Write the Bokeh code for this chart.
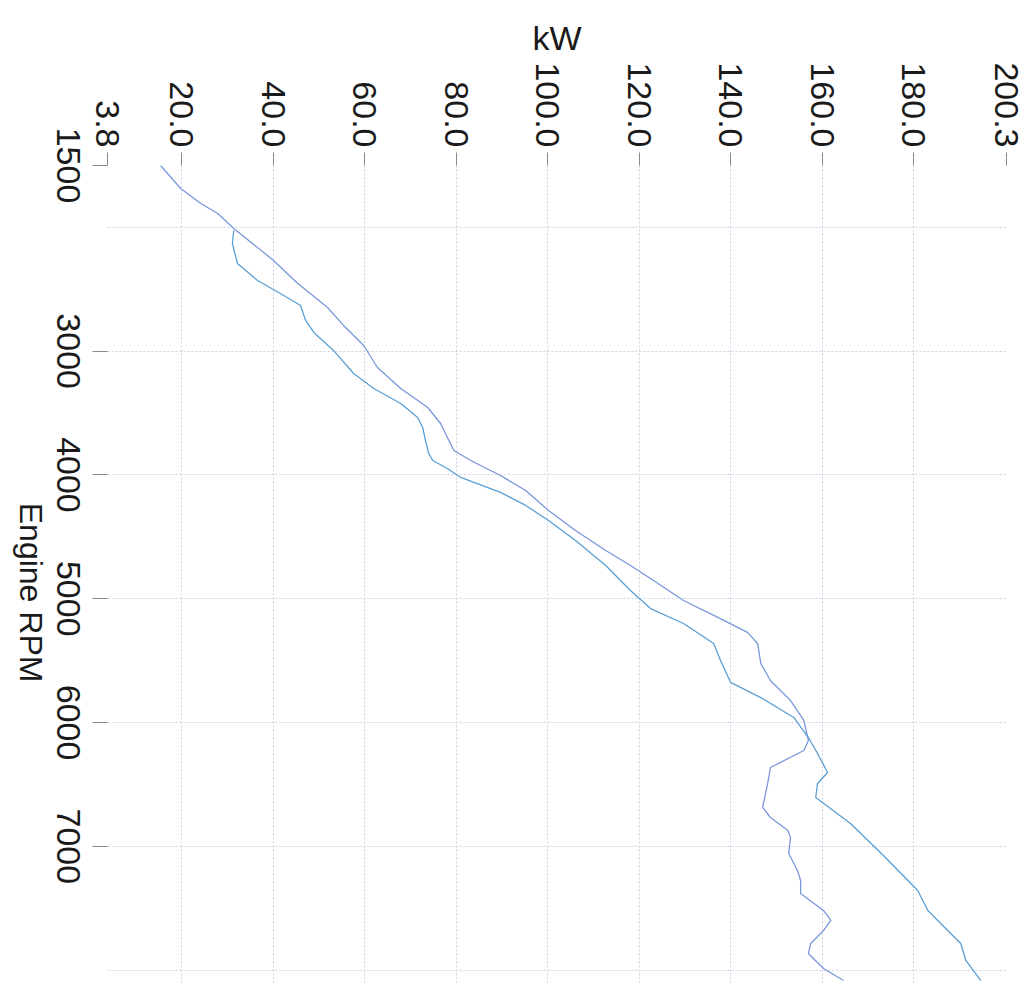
import math
from bokeh.plotting import figure
from bokeh.layouts import row
from bokeh.models import Range1d, FixedTicker, PrintfTickFormatter
from bokeh.core.properties import value
from bokeh.embed import file_html
from bokeh.resources import INLINE

# ---- data ----
rpm_a = [1500, 1686, 1807, 1888, 2009, 2267, 2453, 2647, 2792, 2954, 3132, 3301, 3455, 3584,
         3802, 3883, 4004, 4125, 4287, 4448, 4610, 4731, 4836, 5014, 5151, 5272, 5361, 5523,
         5660, 5822, 5983, 6145, 6226, 6363, 6492, 6686, 6767, 6872, 6928, 7058, 7195, 7276,
         7381, 7518, 7599, 7680, 7785, 7865, 7987, 8084]
kw_a = [15.4, 19.8, 24.2, 27.9, 31.4, 40.1, 45.4, 51.9, 55.4, 59.8, 62.8, 67.9, 73.8, 76.6,
        79.5, 83.2, 89.7, 95.2, 100.2, 106.1, 112.7, 118.1, 122.5, 129.7, 137.2, 143.7, 145.9, 146.6,
        148.7, 153.1, 156.0, 157.0, 156.0, 148.7, 148.1, 147.0, 148.7, 152.5, 153.1, 152.7, 154.6, 155.3,
        155.3, 160.3, 161.9, 160.3, 157.5, 157.0, 160.3, 164.7]

rpm_b = [2025, 2130, 2292, 2429, 2534, 2631, 2752, 2849, 2994, 3180, 3301, 3423, 3536, 3616,
         3721, 3826, 3883, 3948, 4020, 4141, 4246, 4368, 4529, 4731, 4933, 5079, 5200, 5361,
         5499, 5676, 5798, 5959, 6121, 6250, 6403, 6492, 6605, 6815, 7074, 7357, 7518, 7704,
         7785, 7922, 8084]
kw_b = [31.4, 31.1, 32.2, 36.6, 41.6, 46.0, 47.1, 48.9, 53.2, 57.6, 62.0, 67.9, 71.6, 72.7,
        73.3, 74.0, 74.9, 78.1, 81.0, 89.7, 95.2, 100.2, 106.1, 112.7, 118.1, 122.5, 129.7, 136.3,
        137.8, 140.0, 146.6, 153.8, 157.0, 159.0, 161.2, 159.0, 158.6, 166.2, 173.4, 180.9, 183.1, 188.1,
        190.3, 191.4, 194.7]

kw_tick_values = [3.8, 20.0, 40.0, 60.0, 80.0, 100.0, 120.0, 140.0, 160.0, 180.0, 200.3]
kw_grid_values = [20.0, 40.0, 60.0, 80.0, 100.0, 120.0, 140.0, 160.0, 180.0, 200.3]
rpm_tick_values = [1500, 3000, 4000, 5000, 6000, 7000]
rpm_grid_values = [1500, 2000, 3000, 4000, 5000, 6000, 7000, 8000]
rpm_axis_title = "Engine RPM"
kw_axis_title = "kW"

kw_min, kw_max = 3.8, 200.3
rpm_min, rpm_view_max = 1500, 8108
rpm_title_pos = 4950

# ---- layout constants (pixels) ----
W, H = 1029, 983
TOP = 165            # top of plotting frame
LEFT_PANEL = 88      # strip that carries the rotated RPM texts
TICK_OUT = 15
RIGHT_PAD = 23

FONT = "Liberation Sans"
TXT = "#1a1a1a"
TICK_COL = "#8a8a8a"

y_range = Range1d(rpm_view_max, rpm_min)

# ---- main chart ----
p = figure(width=W - LEFT_PANEL, height=H, output_backend="svg", toolbar_location=None,
           x_axis_location="above",
           x_range=Range1d(kw_min, kw_max), y_range=y_range,
           min_border_left=107 - LEFT_PANEL, min_border_top=TOP, min_border_right=RIGHT_PAD,
           min_border_bottom=0)
p.outline_line_color = None
p.background_fill_color = "white"
p.border_fill_color = "white"

xa = p.xaxis[0]
xa.ticker = FixedTicker(ticks=kw_tick_values)
xa.formatter = PrintfTickFormatter(format="%.1f")
xa.major_label_orientation = -math.pi / 2
xa.major_label_text_font = FONT
xa.major_label_text_font_size = "34px"
xa.major_label_text_color = TXT
xa.major_label_standoff = 5
xa.axis_label = kw_axis_title
xa.axis_label_text_font = FONT
xa.axis_label_text_font_size = "34px"
xa.axis_label_text_font_style = "normal"
xa.axis_label_text_color = TXT
xa.axis_label_standoff = 2
xa.axis_line_color = None
xa.major_tick_in = 0
xa.major_tick_out = 13
xa.major_tick_line_color = TICK_COL
xa.minor_tick_line_color = None

ya = p.yaxis[0]
ya.ticker = FixedTicker(ticks=rpm_tick_values)
ya.major_label_overrides = {v: "" for v in rpm_tick_values}
ya.major_label_standoff = 0
ya.axis_line_color = None
ya.major_tick_in = 0
ya.major_tick_out = TICK_OUT
ya.major_tick_line_color = TICK_COL
ya.minor_tick_line_color = None

p.xgrid[0].ticker = FixedTicker(ticks=kw_grid_values)
p.ygrid[0].ticker = FixedTicker(ticks=rpm_grid_values)
for g in (p.xgrid[0], p.ygrid[0]):
    g.grid_line_color = "#cfd0e2"
    g.grid_line_dash = "2 2"
    g.grid_line_width = 1

p.line(kw_a, rpm_a, line_color="#7b96dc", line_width=1.3)
p.line(kw_b, rpm_b, line_color="#5a9fd4", line_width=1.3)

# ---- left strip: RPM tick labels (right-side axis reads top-to-bottom, centred) ----
pl = figure(width=LEFT_PANEL, height=H, output_backend="svg", toolbar_location=None,
            x_axis_location=None, y_axis_location="right",
            x_range=Range1d(0, 1), y_range=y_range,
            min_border_left=0, min_border_right=32, min_border_top=0, min_border_bottom=0)
pl.grid.visible = False
pl.outline_line_color = None
pl.background_fill_color = "white"
pl.border_fill_color = "white"

la = pl.yaxis[0]
la.ticker = FixedTicker(ticks=rpm_tick_values)
la.formatter = PrintfTickFormatter(format="%d")
la.major_label_orientation = "vertical"
la.major_label_text_font = FONT
la.major_label_text_font_size = "34px"
la.major_label_text_color = TXT
la.major_label_standoff = 0
la.axis_line_color = None
la.major_tick_in = 0
la.major_tick_out = 0
la.major_tick_line_color = None
la.minor_tick_line_color = None

pl.text(x=[0], y=[rpm_title_pos], text=[rpm_axis_title], x_offset=30,
        angle=-math.pi / 2, text_align="center", text_baseline="alphabetic",
        text_font=value(FONT), text_font_size="32px", text_color=TXT)

layout = row(pl, p, spacing=0)
open("out.html", "w").write(file_html(layout, INLINE))
